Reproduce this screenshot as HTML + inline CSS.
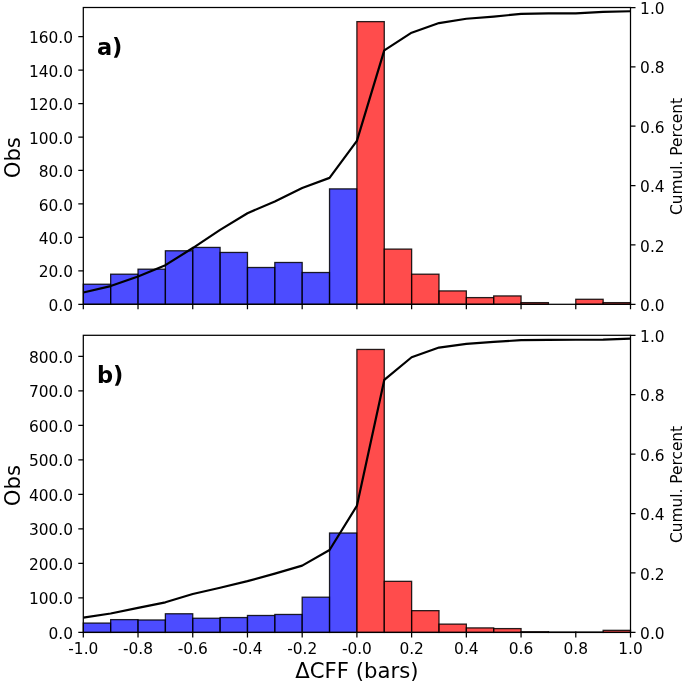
<!DOCTYPE html>
<html lang="en"><head><meta charset="utf-8"><title>ΔCFF histogram</title>
<style>html,body{margin:0;padding:0;background:#fff}svg{display:block}</style></head>
<body>
<svg width="685" height="687" viewBox="0 0 685 687" font-family='"DejaVu Sans", "Liberation Sans", sans-serif' fill="#000">
<rect width="685" height="687" fill="#fff"/>
<g stroke="#000" stroke-width="1.3" stroke-opacity="0.85" fill-opacity="0.7">
<rect x="83.30" y="284.23" width="27.36" height="20.07" fill="#0000ff"/>
<rect x="110.66" y="274.19" width="27.36" height="30.11" fill="#0000ff"/>
<rect x="138.02" y="269.18" width="27.36" height="35.12" fill="#0000ff"/>
<rect x="165.38" y="250.78" width="27.36" height="53.52" fill="#0000ff"/>
<rect x="192.74" y="247.43" width="27.36" height="56.87" fill="#0000ff"/>
<rect x="220.10" y="252.45" width="27.36" height="51.85" fill="#0000ff"/>
<rect x="247.46" y="267.50" width="27.36" height="36.80" fill="#0000ff"/>
<rect x="274.82" y="262.49" width="27.36" height="41.81" fill="#0000ff"/>
<rect x="302.18" y="272.52" width="27.36" height="31.78" fill="#0000ff"/>
<rect x="329.54" y="188.89" width="27.36" height="115.41" fill="#0000ff"/>
<rect x="356.90" y="21.63" width="27.36" height="282.67" fill="#ff0000"/>
<rect x="384.26" y="249.10" width="27.36" height="55.20" fill="#ff0000"/>
<rect x="411.62" y="274.19" width="27.36" height="30.11" fill="#ff0000"/>
<rect x="438.98" y="290.92" width="27.36" height="13.38" fill="#ff0000"/>
<rect x="466.34" y="297.61" width="27.36" height="6.69" fill="#ff0000"/>
<rect x="493.70" y="295.94" width="27.36" height="8.36" fill="#ff0000"/>
<rect x="521.06" y="302.63" width="27.36" height="1.67" fill="#ff0000"/>
<rect x="548.42" y="304.30" width="27.36" height="0.00" fill="#ff0000"/>
<rect x="575.78" y="299.28" width="27.36" height="5.02" fill="#ff0000"/>
<rect x="603.14" y="302.63" width="27.36" height="1.67" fill="#ff0000"/>
</g>
<polyline points="83.30,292.51 110.66,286.08 138.02,276.44 165.38,265.19 192.74,248.05 220.10,229.83 247.46,213.22 274.82,201.44 302.18,188.04 329.54,177.87 356.90,140.90 384.26,50.36 411.62,32.68 438.98,23.04 466.34,18.75 493.70,16.61 521.06,13.93 548.42,13.39 575.78,13.39 603.14,11.79 630.50,11.25" fill="none" stroke="#000" stroke-width="2.2" stroke-linejoin="round"/>
<rect x="83.3" y="7.5" width="547.2" height="296.8" fill="none" stroke="#000" stroke-width="1.25"/>
<path d="M83.30 304.3v5.0 M138.02 304.3v5.0 M192.74 304.3v5.0 M247.46 304.3v5.0 M302.18 304.3v5.0 M356.90 304.3v5.0 M411.62 304.3v5.0 M466.34 304.3v5.0 M521.06 304.3v5.0 M575.78 304.3v5.0 M630.50 304.3v5.0 M83.3 304.30h-5.0 M83.3 270.85h-5.0 M83.3 237.40h-5.0 M83.3 203.94h-5.0 M83.3 170.49h-5.0 M83.3 137.04h-5.0 M83.3 103.59h-5.0 M83.3 70.14h-5.0 M83.3 36.69h-5.0 M630.5 304.30h5.0 M630.5 244.94h5.0 M630.5 185.58h5.0 M630.5 126.22h5.0 M630.5 66.86h5.0 M630.5 7.50h5.0" stroke="#000" stroke-width="1.25" fill="none"/>
<g font-size="15.4" text-anchor="end">
<text x="73.00" y="310.90">0.0</text>
<text x="73.00" y="277.45">20.0</text>
<text x="73.00" y="244.00">40.0</text>
<text x="73.00" y="210.54">60.0</text>
<text x="73.00" y="177.09">80.0</text>
<text x="73.00" y="143.64">100.0</text>
<text x="73.00" y="110.19">120.0</text>
<text x="73.00" y="76.74">140.0</text>
<text x="73.00" y="43.29">160.0</text>
</g>
<g font-size="15.4" text-anchor="start">
<text x="640.10" y="310.90">0.0</text>
<text x="640.10" y="251.54">0.2</text>
<text x="640.10" y="192.18">0.4</text>
<text x="640.10" y="132.82">0.6</text>
<text x="640.10" y="73.46">0.8</text>
<text x="640.10" y="14.10">1.0</text>
</g>
<text font-size="21.2" text-anchor="middle" transform="translate(20.2 157.70) rotate(-90)">Obs</text>
<text font-size="15.4" text-anchor="middle" transform="translate(682.0 156.50) rotate(-90)">Cumul. Percent</text>
<text font-size="22.5" font-weight="bold" x="96.90" y="55.10">a)</text>
<g stroke="#000" stroke-width="1.3" stroke-opacity="0.85" fill-opacity="0.7">
<rect x="83.30" y="623.08" width="27.36" height="9.32" fill="#0000ff"/>
<rect x="110.66" y="619.63" width="27.36" height="12.77" fill="#0000ff"/>
<rect x="138.02" y="619.98" width="27.36" height="12.42" fill="#0000ff"/>
<rect x="165.38" y="613.77" width="27.36" height="18.63" fill="#0000ff"/>
<rect x="192.74" y="618.25" width="27.36" height="14.15" fill="#0000ff"/>
<rect x="220.10" y="617.56" width="27.36" height="14.84" fill="#0000ff"/>
<rect x="247.46" y="615.49" width="27.36" height="16.91" fill="#0000ff"/>
<rect x="274.82" y="614.46" width="27.36" height="17.94" fill="#0000ff"/>
<rect x="302.18" y="597.20" width="27.36" height="35.20" fill="#0000ff"/>
<rect x="329.54" y="533.02" width="27.36" height="99.38" fill="#0000ff"/>
<rect x="356.90" y="349.45" width="27.36" height="282.95" fill="#ff0000"/>
<rect x="384.26" y="581.33" width="27.36" height="51.07" fill="#ff0000"/>
<rect x="411.62" y="610.66" width="27.36" height="21.74" fill="#ff0000"/>
<rect x="438.98" y="624.12" width="27.36" height="8.28" fill="#ff0000"/>
<rect x="466.34" y="627.91" width="27.36" height="4.49" fill="#ff0000"/>
<rect x="493.70" y="628.60" width="27.36" height="3.80" fill="#ff0000"/>
<rect x="521.06" y="631.71" width="27.36" height="0.69" fill="#ff0000"/>
<rect x="548.42" y="632.05" width="27.36" height="0.35" fill="#ff0000"/>
<rect x="575.78" y="632.05" width="27.36" height="0.35" fill="#ff0000"/>
<rect x="603.14" y="630.33" width="27.36" height="2.07" fill="#ff0000"/>
</g>
<polyline points="83.30,617.67 110.66,613.52 138.02,607.85 165.38,602.32 192.74,594.03 220.10,587.74 247.46,581.14 274.82,573.62 302.18,565.64 329.54,549.99 356.90,505.79 384.26,379.96 411.62,357.24 438.98,347.58 466.34,343.89 493.70,341.90 521.06,340.21 548.42,339.90 575.78,339.75 603.14,339.60 630.50,338.68" fill="none" stroke="#000" stroke-width="2.2" stroke-linejoin="round"/>
<rect x="83.3" y="335.3" width="547.2" height="297.09999999999997" fill="none" stroke="#000" stroke-width="1.25"/>
<path d="M83.30 632.4v5.0 M138.02 632.4v5.0 M192.74 632.4v5.0 M247.46 632.4v5.0 M302.18 632.4v5.0 M356.90 632.4v5.0 M411.62 632.4v5.0 M466.34 632.4v5.0 M521.06 632.4v5.0 M575.78 632.4v5.0 M630.50 632.4v5.0 M83.3 632.40h-5.0 M83.3 597.89h-5.0 M83.3 563.39h-5.0 M83.3 528.88h-5.0 M83.3 494.37h-5.0 M83.3 459.87h-5.0 M83.3 425.36h-5.0 M83.3 390.86h-5.0 M83.3 356.35h-5.0 M630.5 632.40h5.0 M630.5 572.98h5.0 M630.5 513.56h5.0 M630.5 454.14h5.0 M630.5 394.72h5.0 M630.5 335.30h5.0" stroke="#000" stroke-width="1.25" fill="none"/>
<g font-size="15.4" text-anchor="end">
<text x="73.00" y="639.00">0.0</text>
<text x="73.00" y="604.49">100.0</text>
<text x="73.00" y="569.99">200.0</text>
<text x="73.00" y="535.48">300.0</text>
<text x="73.00" y="500.97">400.0</text>
<text x="73.00" y="466.47">500.0</text>
<text x="73.00" y="431.96">600.0</text>
<text x="73.00" y="397.46">700.0</text>
<text x="73.00" y="362.95">800.0</text>
</g>
<g font-size="15.4" text-anchor="start">
<text x="640.10" y="639.00">0.0</text>
<text x="640.10" y="579.58">0.2</text>
<text x="640.10" y="520.16">0.4</text>
<text x="640.10" y="460.74">0.6</text>
<text x="640.10" y="401.32">0.8</text>
<text x="640.10" y="341.90">1.0</text>
</g>
<text font-size="21.2" text-anchor="middle" transform="translate(20.2 485.65) rotate(-90)">Obs</text>
<text font-size="15.4" text-anchor="middle" transform="translate(682.0 484.45) rotate(-90)">Cumul. Percent</text>
<text font-size="22.5" font-weight="bold" x="96.90" y="382.90">b)</text>
<g font-size="15.4" text-anchor="middle">
<text x="83.30" y="654.40">-1.0</text>
<text x="138.02" y="654.40">-0.8</text>
<text x="192.74" y="654.40">-0.6</text>
<text x="247.46" y="654.40">-0.4</text>
<text x="302.18" y="654.40">-0.2</text>
<text x="356.90" y="654.40">-0.0</text>
<text x="411.62" y="654.40">0.2</text>
<text x="466.34" y="654.40">0.4</text>
<text x="521.06" y="654.40">0.6</text>
<text x="575.78" y="654.40">0.8</text>
<text x="630.50" y="654.40">1.0</text>
</g>
<text font-size="21.2" text-anchor="middle" x="356.90" y="678.0">ΔCFF (bars)</text>
</svg>
</body></html>
